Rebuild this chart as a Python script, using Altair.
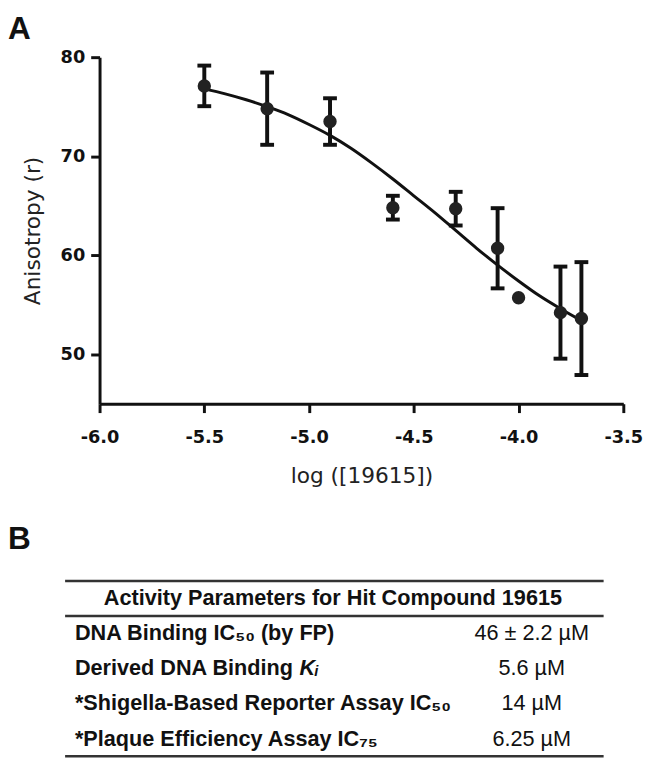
import altair as alt
import pandas as pd

# ---- Panel A data ----
log_conc = [-5.5, -5.2, -4.9, -4.6, -4.3, -4.1, -4.0, -3.8, -3.7]
anisotropy = [77.1, 74.8, 73.5, 64.8, 64.7, 60.7, 55.7, 54.2, 53.6]
sd = [2.05, 3.65, 2.35, 1.2, 1.7, 4.05, 0.0, 4.65, 5.7]

curve_x = [-5.5, -5.4, -5.3, -5.2, -5.1, -5.0, -4.9, -4.8, -4.7, -4.6,
           -4.5, -4.4, -4.3, -4.2, -4.1, -4.0, -3.9, -3.8, -3.7]
curve_y = [76.8, 76.3, 75.7, 75.0, 74.2, 73.2, 72.1, 70.8, 69.3, 67.7,
           66.0, 64.3, 62.5, 60.7, 59.0, 57.4, 55.9, 54.6, 53.4]

x_ticks = [-6.0, -5.5, -5.0, -4.5, -4.0, -3.5]
y_ticks = [50, 60, 70, 80]

panel_labels = ["A", "B"]

# ---- Panel B table ----
table_header = "Activity Parameters for Hit Compound 19615"
param_labels = ["DNA Binding IC\u2085\u2080 (by FP)",
                "Derived DNA Binding",
                "*Shigella-Based Reporter Assay IC\u2085\u2080",
                "*Plaque Efficiency Assay IC\u2087\u2085"]
param_italic = ["", "K\u1d62", "", ""]
param_values = ["46 \u00b1 2.2 \u00b5M", "5.6 \u00b5M", "14 \u00b5M", "6.25 \u00b5M"]
table_rows = [1, 2, 3, 4]
header_row = [0]
rule_rows = [-0.5, 0.5, 4.5]

INK = "#111111"

pts = pd.DataFrame({"x": log_conc, "y": anisotropy, "sd": sd})
curve_df = pd.DataFrame({"x": curve_x, "y": curve_y})

xscale = alt.Scale(domain=[-6, -3.5], nice=False, zero=False)
yscale = alt.Scale(domain=[45, 80], nice=False, zero=False)

common_axis = dict(grid=False, labelFont="DejaVu Sans", labelFontSize=18,
                   labelFontWeight="bold", labelColor=INK, tickSize=9,
                   tickWidth=3, tickColor=INK, domainWidth=3, domainColor=INK,
                   titleFont="DejaVu Sans", titleFontSize=22,
                   titleFontWeight="normal", titleColor="#222222",
                   labelFlush=False, labelOverlap=False)

xaxis = alt.Axis(values=x_ticks, title="log ([19615])", labelPadding=16,
                 titlePadding=20,
                 labelExpr="replace(format(datum.value, '.1f'), '\u2212', '-')",
                 **common_axis)
yaxis = alt.Axis(values=y_ticks, title="Anisotropy (r)", format="d",
                 labelPadding=6, titlePadding=16, **common_axis)

X = alt.X("x:Q", scale=xscale, axis=xaxis)

err = alt.Chart(pts).transform_filter("datum.sd > 0").transform_calculate(
    lo="datum.y - datum.sd", hi="datum.y + datum.sd")

bars = err.mark_rule(strokeWidth=4, color=INK).encode(
    x=X, y=alt.Y("lo:Q", scale=yscale, axis=yaxis), y2="hi:Q")
cap_lo = err.mark_tick(orient="horizontal", size=14, thickness=4, color=INK,
                       opacity=1).encode(x=X, y=alt.Y("lo:Q", scale=yscale, axis=yaxis))
cap_hi = err.mark_tick(orient="horizontal", size=14, thickness=4, color=INK,
                       opacity=1).encode(x=X, y=alt.Y("hi:Q", scale=yscale, axis=yaxis))

curve = alt.Chart(curve_df).mark_line(color=INK, strokeWidth=3,
                                      interpolate="monotone").encode(
    x=X, y=alt.Y("y:Q", scale=yscale, axis=yaxis))

points = alt.Chart(pts).mark_circle(size=185, color="#222222", opacity=1).encode(
    x=X, y=alt.Y("y:Q", scale=yscale, axis=yaxis))

label_a = alt.Chart(pd.DataFrame({"p": [panel_labels[0]]})).mark_text(
    align="left", baseline="middle", font="Liberation Sans", fontSize=32,
    fontWeight="bold", color=INK).encode(
    x=alt.value(-93), y=alt.value(-28), text="p:N")

chart_a = alt.layer(bars, cap_lo, cap_hi, curve, points, label_a).properties(
    width=532, height=352)

# ---- table chart ----
tscale = alt.Scale(domain=[-0.5, 4.5], reverse=True, nice=False, zero=False)

rules_df = pd.DataFrame({"row": rule_rows})
head_df = pd.DataFrame({"row": header_row, "text": [table_header]})
lab_df = pd.DataFrame({"row": table_rows, "label": param_labels,
                       "ital": param_italic, "value": param_values})

TFS = 22

rules = alt.Chart(rules_df).mark_rule(strokeWidth=2.5, color="#333333").encode(
    y=alt.Y("row:Q", scale=tscale, axis=None),
    x=alt.value(-35), x2=alt.value(512))

head = alt.Chart(head_df).mark_text(align="center", baseline="middle",
                                    font="Liberation Sans", fontSize=TFS,
                                    fontWeight="bold", color=INK).encode(
    y=alt.Y("row:Q", scale=tscale, axis=None), x=alt.value(237), text="text:N")

labels = alt.Chart(lab_df).mark_text(align="left", baseline="middle",
                                     font="Liberation Sans", fontSize=TFS,
                                     fontWeight="bold", color=INK).encode(
    y=alt.Y("row:Q", scale=tscale, axis=None), x=alt.value(-25), text="label:N")

ital = alt.Chart(lab_df).transform_filter("datum.ital != ''").mark_text(
    align="left", baseline="middle", font="Liberation Sans", fontSize=TFS,
    fontWeight="bold", fontStyle="italic", color=INK, dx=228).encode(
    y=alt.Y("row:Q", scale=tscale, axis=None), x=alt.value(-25), text="ital:N")

vals = alt.Chart(lab_df).mark_text(align="center", baseline="middle",
                                   font="Liberation Sans", fontSize=TFS,
                                   fontWeight="normal", color=INK).encode(
    y=alt.Y("row:Q", scale=tscale, axis=None), x=alt.value(439), text="value:N")

label_b = alt.Chart(pd.DataFrame({"p": [panel_labels[1]]})).mark_text(
    align="left", baseline="middle", font="Liberation Sans", fontSize=32,
    fontWeight="bold", color=INK).encode(
    x=alt.value(-93), y=alt.value(-42), text="p:N")

chart_b = alt.layer(rules, head, labels, ital, vals, label_b).properties(
    width=532, height=178)

chart = alt.vconcat(chart_a, chart_b, spacing=38).properties(
    padding=0).configure_view(stroke=None)

chart.save("out.html", embed_options={"renderer": "svg", "actions": False})
